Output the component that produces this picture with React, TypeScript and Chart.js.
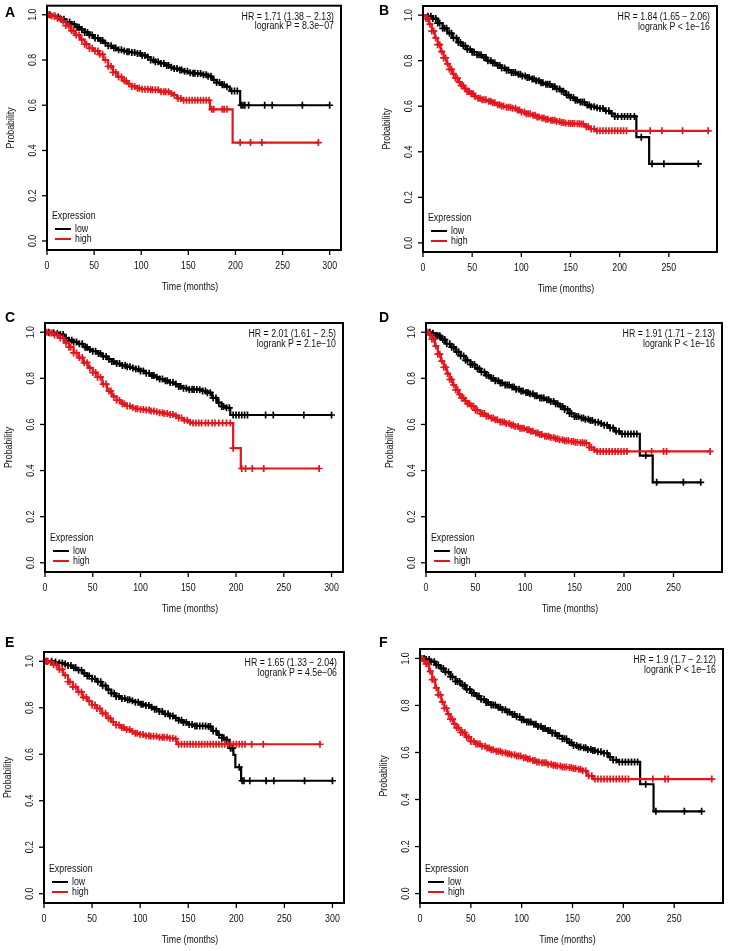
import React, { useEffect, useRef } from "react";
import { Chart, registerables } from "chart.js";
Chart.register(...registerables);

// ---------------- data ----------------
const Y_TICKS = [0, 0.2, 0.4, 0.6, 0.8, 1.0];
const Y_TICK_LABELS = ["0.0", "0.2", "0.4", "0.6", "0.8", "1.0"];
const X_TICKS_300 = [0, 50, 100, 150, 200, 250, 300];
const X_TICKS_250 = [0, 50, 100, 150, 200, 250];
const SERIES_NAMES = ["low", "high"];
const LEGEND_TITLE = "Expression";
const X_TITLE = "Time (months)";
const Y_TITLE = "Probability";
const PANEL_LETTERS = ["A", "B", "C", "D", "E", "F"];
const HR_TEXT = [
  "HR = 1.71 (1.38 \u2212 2.13)",
  "HR = 1.84 (1.65 \u2212 2.06)",
  "HR = 2.01 (1.61 \u2212 2.5)",
  "HR = 1.91 (1.71 \u2212 2.13)",
  "HR = 1.65 (1.33 \u2212 2.04)",
  "HR = 1.9 (1.7 \u2212 2.12)",
];
const P_TEXT = [
  "logrank P = 8.3e\u221207",
  "logrank P < 1e\u221216",
  "logrank P = 2.1e\u221210",
  "logrank P < 1e\u221216",
  "logrank P = 4.5e\u221206",
  "logrank P < 1e\u221216",
];
const X_MAX = [312, 299, 312, 299, 312, 298];

// Panel A
const A_LOW_T = [0,5,10,15,20,25,30,35,40,45,50,55,60,65,70,75,80,85,90,95,100,105,110,115,120,125,130,135,140,145,150,155,160,165,170,175,180,185,190,194,205,300];
const A_LOW_S = [1,0.995,0.99,0.98,0.968,0.958,0.945,0.935,0.922,0.91,0.897,0.886,0.874,0.863,0.853,0.845,0.84,0.836,0.833,0.829,0.82,0.813,0.8,0.792,0.785,0.776,0.768,0.762,0.756,0.75,0.744,0.741,0.74,0.735,0.728,0.712,0.7,0.69,0.682,0.663,0.6,0.6];
const A_LOW_C = [3,8,12,15,18,21,24,26,29,32,34,37,40,43,45,48,51,54,57,59,62,65,68,71,73,76,79,82,85,87,90,93,96,99,101,104,107,110,113,115,118,121,124,127,129,132,135,138,141,143,146,149,152,155,157,160,163,166,169,171,174,177,180,183,186,188,191,196,199,202,206,208,210,214,231,239,271,300];
const A_HIGH_T = [0,5,10,15,20,25,30,35,40,45,50,55,60,65,70,75,80,85,90,95,100,110,120,130,135,138,143,173,197,288];
const A_HIGH_S = [1,0.995,0.985,0.972,0.952,0.93,0.91,0.89,0.87,0.852,0.84,0.825,0.8,0.772,0.745,0.725,0.708,0.695,0.683,0.675,0.671,0.668,0.66,0.652,0.645,0.63,0.622,0.582,0.435,0.435];
const A_HIGH_C = [2,5,8,11,14,17,20,23,26,28,31,34,37,40,42,45,48,51,54,56,59,62,65,68,70,73,76,79,82,84,87,90,93,96,98,101,104,107,110,112,115,118,121,124,126,129,132,135,139,142,145,148,151,154,157,160,163,166,169,172,175,177,186,188,191,205,216,228,288];

// Panel B
const B_LOW_T = [0,5,10,15,20,25,30,35,40,45,50,55,60,65,70,75,80,85,90,95,100,105,110,115,120,125,130,135,140,145,150,155,160,165,170,175,180,185,190,195,217,230,280];
const B_LOW_S = [1,0.995,0.985,0.965,0.942,0.92,0.9,0.88,0.865,0.85,0.837,0.826,0.814,0.8,0.79,0.779,0.768,0.758,0.748,0.74,0.733,0.726,0.72,0.712,0.703,0.696,0.686,0.676,0.666,0.65,0.638,0.626,0.618,0.605,0.598,0.593,0.59,0.58,0.568,0.555,0.464,0.347,0.347];
const B_LOW_C = [5,8,10,13,15,17,20,22,24,27,29,31,34,36,38,41,43,45,48,50,52,55,57,59,62,64,66,69,71,73,76,78,80,83,85,87,90,92,94,97,99,101,104,106,108,111,113,115,118,120,122,125,127,129,132,134,136,139,141,143,146,148,150,153,155,157,160,162,164,167,169,171,174,177,180,183,186,189,192,195,198,202,205,208,211,215,222,233,245,280];
const B_HIGH_T = [0,3,6,9,12,15,18,21,24,27,30,33,36,39,42,45,48,52,56,60,65,70,75,80,85,90,95,100,105,110,115,120,125,130,135,140,145,150,155,160,165,170,175,290];
const B_HIGH_S = [1,0.985,0.96,0.93,0.9,0.87,0.84,0.812,0.786,0.762,0.742,0.723,0.706,0.69,0.677,0.665,0.655,0.643,0.635,0.628,0.622,0.615,0.607,0.601,0.596,0.591,0.583,0.575,0.567,0.56,0.553,0.548,0.543,0.538,0.533,0.528,0.525,0.524,0.523,0.522,0.51,0.5,0.492,0.492];
const B_HIGH_C = [3,5,7,9,11,13,15,17,19,21,23,25,27,29,31,33,35,37,39,41,43,45,47,49,51,53,56,58,60,62,64,67,69,71,73,76,78,80,82,85,87,89,91,94,96,98,100,103,105,107,109,112,114,116,118,121,123,125,127,130,132,134,136,139,141,143,145,148,150,152,154,157,159,161,163,166,168,171,174,177,180,183,186,189,192,195,198,201,204,207,231,243,264,290];

// Panel C
const C_LOW_T = [0,5,10,15,20,25,30,35,40,45,50,55,60,65,70,75,80,85,90,95,100,105,110,115,120,125,130,135,140,145,150,160,165,170,175,180,185,190,194,300];
const C_LOW_S = [1,0.998,0.995,0.99,0.975,0.965,0.958,0.95,0.935,0.925,0.918,0.908,0.895,0.883,0.873,0.864,0.856,0.85,0.845,0.84,0.832,0.822,0.812,0.805,0.797,0.79,0.782,0.775,0.765,0.757,0.752,0.751,0.745,0.738,0.715,0.695,0.678,0.672,0.641,0.641];
const C_LOW_C = [4,9,13,16,19,22,25,28,30,33,36,39,42,44,47,50,53,56,58,61,64,67,70,72,75,78,81,84,86,89,92,95,98,100,103,106,109,112,114,117,120,123,126,128,131,134,137,140,142,145,148,151,154,156,159,162,165,168,170,173,176,179,182,185,187,190,193,197,200,203,206,209,212,231,239,271,300];
const C_HIGH_T = [0,5,10,15,20,25,30,35,40,45,50,55,60,65,70,75,80,85,90,95,100,105,110,115,120,125,130,135,140,145,150,155,197,205,287];
const C_HIGH_S = [1,0.997,0.988,0.975,0.955,0.935,0.91,0.89,0.868,0.845,0.825,0.805,0.775,0.745,0.722,0.705,0.69,0.68,0.673,0.668,0.665,0.663,0.658,0.655,0.651,0.647,0.643,0.638,0.628,0.618,0.61,0.606,0.497,0.409,0.409];
const C_HIGH_C = [2,5,7,10,13,16,19,22,25,27,30,33,36,39,41,44,47,50,53,55,58,61,64,67,69,72,75,78,81,83,86,89,92,95,97,100,103,106,109,111,114,117,120,123,125,128,131,134,137,140,143,146,149,152,155,158,161,164,168,171,175,178,182,186,190,194,197,206,210,217,229,287];

// Panel D
const D_LOW_T = [0,5,10,15,20,25,30,35,40,45,50,55,60,65,70,75,80,85,90,95,100,105,110,115,120,125,130,135,140,145,150,155,160,165,170,175,180,185,190,196,216,229,277.5];
const D_LOW_S = [1,0.996,0.985,0.968,0.95,0.935,0.915,0.897,0.878,0.86,0.842,0.828,0.813,0.8,0.79,0.78,0.771,0.762,0.753,0.745,0.739,0.733,0.724,0.715,0.707,0.7,0.69,0.678,0.665,0.648,0.634,0.628,0.622,0.617,0.61,0.604,0.597,0.585,0.57,0.559,0.465,0.349,0.349];
const D_LOW_C = [4,7,10,12,14,17,19,21,24,26,28,31,33,35,38,40,42,45,47,49,52,54,56,59,61,63,66,68,70,73,75,77,80,82,84,87,89,91,94,96,98,101,103,105,108,110,112,115,117,119,122,124,126,129,131,133,136,138,140,143,145,147,150,152,154,157,159,161,164,166,168,171,174,177,180,183,186,189,192,195,198,201,204,207,210,213,222,233,260,277.5];
const D_HIGH_T = [0,3,6,9,12,15,18,21,24,27,30,33,36,39,42,45,50,55,60,65,70,75,80,85,90,95,100,105,110,115,120,125,130,135,140,145,150,155,160,165,170,173,287];
const D_HIGH_S = [1,0.99,0.97,0.94,0.905,0.875,0.848,0.82,0.795,0.772,0.75,0.73,0.715,0.702,0.69,0.679,0.662,0.647,0.636,0.628,0.62,0.611,0.604,0.598,0.591,0.584,0.577,0.57,0.563,0.556,0.549,0.543,0.538,0.534,0.529,0.526,0.523,0.521,0.519,0.5,0.49,0.483,0.483];
const D_HIGH_C = [2,4,6,8,10,12,14,16,18,20,22,24,26,28,30,32,34,36,38,40,42,44,46,48,50,52,55,57,59,61,63,66,68,70,72,75,77,79,81,84,86,88,90,93,95,97,99,102,104,106,108,111,113,115,117,120,122,124,126,129,131,133,135,138,140,142,144,147,149,151,153,156,158,160,162,165,167,170,173,176,179,182,185,188,191,194,197,200,203,228,240,243,287];

// Panel E
const E_LOW_T = [0,5,10,15,20,25,30,35,40,45,50,55,60,65,70,75,80,85,90,95,100,105,110,115,120,125,130,135,140,145,150,155,170,175,180,185,190,193,197,199,205,300];
const E_LOW_S = [1,1,0.997,0.993,0.988,0.982,0.972,0.962,0.948,0.937,0.925,0.912,0.895,0.878,0.862,0.849,0.84,0.835,0.83,0.824,0.815,0.81,0.802,0.794,0.784,0.774,0.765,0.756,0.746,0.737,0.728,0.722,0.719,0.7,0.683,0.671,0.662,0.626,0.597,0.544,0.486,0.486];
const E_LOW_C = [3,8,12,16,19,22,25,28,31,33,36,39,42,45,47,50,53,56,59,61,64,67,70,73,75,78,81,84,87,89,92,95,98,101,103,106,109,112,115,117,120,123,126,129,131,134,137,140,143,145,148,151,154,157,159,162,165,168,171,173,176,179,182,185,187,190,194,196,203,206,208,214,231,239,271,300];
const E_HIGH_T = [0,5,10,15,20,25,30,35,40,45,50,55,60,65,70,75,80,85,90,95,100,105,110,120,130,135,138,287];
const E_HIGH_S = [1,0.995,0.985,0.965,0.94,0.912,0.89,0.868,0.845,0.828,0.812,0.797,0.776,0.755,0.738,0.726,0.715,0.706,0.698,0.69,0.685,0.68,0.677,0.673,0.669,0.666,0.643,0.643];
const E_HIGH_C = [2,4,7,10,13,16,19,22,25,27,30,33,36,39,41,44,47,50,53,55,58,61,64,67,69,72,75,78,81,83,86,89,92,95,97,100,103,106,109,111,114,117,120,123,125,128,131,134,137,140,143,146,149,152,155,158,161,164,167,170,173,176,179,182,185,188,191,194,197,200,203,206,209,216,228,287];

// Panel F
const F_LOW_T = [0,5,10,15,20,25,30,35,40,45,50,55,60,65,70,75,80,85,90,95,100,105,110,115,120,125,130,135,140,145,150,155,160,165,170,175,180,185,190,194,216.5,229.7,277];
const F_LOW_S = [1,0.995,0.986,0.972,0.957,0.942,0.922,0.902,0.885,0.868,0.853,0.84,0.826,0.813,0.802,0.792,0.782,0.772,0.762,0.752,0.739,0.73,0.72,0.711,0.702,0.693,0.682,0.671,0.658,0.642,0.63,0.623,0.62,0.613,0.608,0.603,0.597,0.58,0.568,0.56,0.465,0.35,0.35];
const F_LOW_C = [4,6,9,11,14,16,18,21,23,25,28,30,32,35,37,39,42,44,46,49,51,53,56,58,60,63,65,67,70,72,74,77,79,81,84,86,88,91,93,95,98,100,102,105,107,109,112,114,116,119,121,123,126,128,130,133,135,137,140,142,144,147,149,151,154,156,158,161,163,165,168,170,172,175,178,181,184,187,190,193,196,199,202,205,208,211,214,222,232,260,277];
const F_HIGH_T = [0,3,6,9,12,15,18,21,24,27,30,33,36,40,45,50,55,60,65,70,75,80,85,90,95,100,105,110,115,120,125,130,135,140,145,150,155,160,164,170,287];
const F_HIGH_S = [1,0.99,0.977,0.945,0.91,0.875,0.845,0.815,0.788,0.763,0.742,0.722,0.705,0.685,0.665,0.647,0.636,0.627,0.619,0.612,0.605,0.599,0.595,0.59,0.585,0.578,0.572,0.566,0.56,0.556,0.55,0.546,0.542,0.538,0.536,0.532,0.529,0.522,0.501,0.487,0.487];
const F_HIGH_C = [2,4,6,8,10,12,14,16,18,20,22,24,26,28,30,32,34,36,38,40,42,44,46,48,50,53,55,57,59,61,64,66,68,70,72,75,77,79,81,84,86,88,90,93,95,97,99,102,104,106,108,111,113,115,117,120,122,124,126,129,131,133,135,138,140,142,144,147,149,151,153,156,158,160,163,166,169,172,175,178,181,184,187,190,193,196,199,202,205,229,241,244,287];

// ---------------- layout / style ----------------
const FONT = '"Liberation Sans", Arial, Helvetica, sans-serif';
const RED = "#e3161c";
const BLACK = "#000000";
const SX = 0.88;

const PANELS = [
  { lowT: A_LOW_T, lowS: A_LOW_S, lowC: A_LOW_C, highT: A_HIGH_T, highS: A_HIGH_S, highC: A_HIGH_C, xTicks: X_TICKS_300 },
  { lowT: B_LOW_T, lowS: B_LOW_S, lowC: B_LOW_C, highT: B_HIGH_T, highS: B_HIGH_S, highC: B_HIGH_C, xTicks: X_TICKS_250 },
  { lowT: C_LOW_T, lowS: C_LOW_S, lowC: C_LOW_C, highT: C_HIGH_T, highS: C_HIGH_S, highC: C_HIGH_C, xTicks: X_TICKS_300 },
  { lowT: D_LOW_T, lowS: D_LOW_S, lowC: D_LOW_C, highT: D_HIGH_T, highS: D_HIGH_S, highC: D_HIGH_C, xTicks: X_TICKS_250 },
  { lowT: E_LOW_T, lowS: E_LOW_S, lowC: E_LOW_C, highT: E_HIGH_T, highS: E_HIGH_S, highC: E_HIGH_C, xTicks: X_TICKS_300 },
  { lowT: F_LOW_T, lowS: F_LOW_S, lowC: F_LOW_C, highT: F_HIGH_T, highS: F_HIGH_S, highC: F_HIGH_C, xTicks: X_TICKS_250 },
];

// canvas rect (page coords) and plot box (page coords)
const LAYOUT = [
  { cx: 0, cy: 0, cw: 364, ch: 310, l: 47, t: 4, r: 341, b: 250, lx: 5, ly: 5 },
  { cx: 364, cy: 0, cw: 365, ch: 310, l: 423, t: 6, r: 717, b: 252, lx: 379, ly: 3 },
  { cx: 0, cy: 310, cw: 364, ch: 320, l: 45, t: 323, r: 343, b: 572, lx: 5, ly: 310 },
  { cx: 364, cy: 310, cw: 365, ch: 320, l: 426, t: 323, r: 722, b: 572, lx: 379, ly: 310 },
  { cx: 0, cy: 630, cw: 364, ch: 321, l: 44, t: 652, r: 344, b: 903, lx: 5, ly: 635 },
  { cx: 364, cy: 630, cw: 365, ch: 321, l: 420, t: 649, r: 723, b: 903, lx: 379, ly: 635 },
];

function stepAt(times: number[], surv: number[], t: number) {
  let v = surv[0];
  for (let i = 0; i < times.length; i++) {
    if (times[i] <= t) v = surv[i];
    else break;
  }
  return v;
}

function drawText(ctx: CanvasRenderingContext2D, s: string, x: number, y: number, align: CanvasTextAlign, rotate = false) {
  ctx.save();
  ctx.translate(x, y);
  if (rotate) ctx.rotate(-Math.PI / 2);
  ctx.scale(SX, 1);
  ctx.textAlign = align;
  ctx.textBaseline = "middle";
  ctx.fillText(s, 0, 0);
  ctx.restore();
}

function line(ctx: CanvasRenderingContext2D, x1: number, y1: number, x2: number, y2: number) {
  ctx.beginPath();
  ctx.moveTo(x1, y1);
  ctx.lineTo(x2, y2);
  ctx.stroke();
}

const rStylePlugin = {
  id: "rStyle",
  afterDraw(chart: any, _args: any, opts: any) {
    const ctx: CanvasRenderingContext2D = chart.ctx;
    const a = chart.chartArea;
    const xs = chart.scales.x;
    const ys = chart.scales.y;
    ctx.save();
    ctx.strokeStyle = BLACK;
    ctx.fillStyle = "#111";
    // box
    ctx.lineWidth = 2;
    ctx.strokeRect(a.left, a.top, a.right - a.left, a.bottom - a.top);
    ctx.font = `10px ${FONT}`;
    ctx.lineWidth = 1.3;
    // x axis
    for (const v of opts.xTicks) {
      const px = xs.getPixelForValue(v);
      line(ctx, px, a.bottom, px, a.bottom + 5);
      drawText(ctx, String(v), px, a.bottom + 16, "center");
    }
    drawText(ctx, X_TITLE, (xs.getPixelForValue(opts.xTicks[0]) + a.right) / 2 - 4, a.bottom + 37, "center");
    // y axis
    Y_TICKS.forEach((v, i) => {
      const py = ys.getPixelForValue(v);
      line(ctx, a.left - 5, py, a.left, py);
      drawText(ctx, Y_TICK_LABELS[i], a.left - 14, py, "center", true);
    });
    drawText(ctx, Y_TITLE, a.left - 36, (a.top + a.bottom) / 2, "center", true);
    // HR text
    drawText(ctx, opts.hr, a.right - 7, a.top + 11.5, "right");
    drawText(ctx, opts.p, a.right - 7, a.top + 21, "right");
    // legend
    drawText(ctx, LEGEND_TITLE, a.left + 5, a.bottom - 34, "left");
    ctx.lineWidth = 2;
    ctx.strokeStyle = BLACK;
    line(ctx, a.left + 8, a.bottom - 21, a.left + 24, a.bottom - 21);
    ctx.strokeStyle = RED;
    line(ctx, a.left + 8, a.bottom - 11, a.left + 24, a.bottom - 11);
    drawText(ctx, SERIES_NAMES[0], a.left + 28, a.bottom - 21, "left");
    drawText(ctx, SERIES_NAMES[1], a.left + 28, a.bottom - 11, "left");
    ctx.restore();
  },
};

function KMPanel({ idx }: { idx: number }) {
  const ref = useRef<HTMLCanvasElement | null>(null);
  const lay = LAYOUT[idx];
  useEffect(() => {
    const P = PANELS[idx];
    const toPts = (T: number[], S: number[]) => T.map((t, i) => ({ x: t, y: S[i] }));
    const cens = (C: number[], T: number[], S: number[]) => C.map((t) => ({ x: t, y: stepAt(T, S, t) }));
    const curve = (label: string, T: number[], S: number[], color: string, order: number) => ({
      label,
      data: toPts(T, S),
      borderColor: color,
      borderWidth: 2.2,
      stepped: "before",
      pointRadius: 0,
      fill: false,
      order,
    });
    const marks = (label: string, C: number[], T: number[], S: number[], color: string, order: number) => ({
      label,
      data: cens(C, T, S),
      showLine: false,
      pointStyle: "cross",
      pointRadius: 3.5,
      pointBorderColor: color,
      pointBorderWidth: 1.7,
      borderColor: color,
      order,
    });
    const chart = new Chart(ref.current as HTMLCanvasElement, {
      type: "line",
      data: {
        datasets: [
          curve(SERIES_NAMES[1], P.highT, P.highS, RED, 0),
          marks(SERIES_NAMES[1] + " censored", P.highC, P.highT, P.highS, RED, 1),
          curve(SERIES_NAMES[0], P.lowT, P.lowS, BLACK, 2),
          marks(SERIES_NAMES[0] + " censored", P.lowC, P.lowT, P.lowS, BLACK, 3),
        ] as any,
      },
      options: {
        animation: false,
        responsive: false,
        events: [],
        layout: {
          padding: {
            left: lay.l - lay.cx,
            top: lay.t - lay.cy,
            right: lay.cx + lay.cw - lay.r,
            bottom: lay.cy + lay.ch - lay.b,
          },
        },
        scales: {
          x: { type: "linear", min: 0, max: X_MAX[idx], display: false },
          y: { type: "linear", min: -0.04, max: 1.04, display: false },
        },
        plugins: {
          legend: { display: false },
          tooltip: { enabled: false },
          rStyle: { xTicks: P.xTicks, hr: HR_TEXT[idx], p: P_TEXT[idx] },
        } as any,
      },
      plugins: [rStylePlugin as any],
    });
    return () => chart.destroy();
  }, [idx]);
  return (
    <>
      <canvas
        ref={ref}
        width={lay.cw}
        height={lay.ch}
        style={{ position: "absolute", left: lay.cx, top: lay.cy, width: lay.cw, height: lay.ch }}
      />
      <div
        style={{
          position: "absolute",
          left: lay.lx,
          top: lay.ly,
          font: `bold 14px ${FONT}`,
          lineHeight: "14px",
          color: "#000",
        }}
      >
        {PANEL_LETTERS[idx]}
      </div>
    </>
  );
}

export default function App() {
  return (
    <div style={{ position: "absolute", left: 0, top: 0, width: 729, height: 951, background: "#fff", overflow: "hidden" }}>
      {PANELS.map((_, i) => (
        <KMPanel key={i} idx={i} />
      ))}
    </div>
  );
}
